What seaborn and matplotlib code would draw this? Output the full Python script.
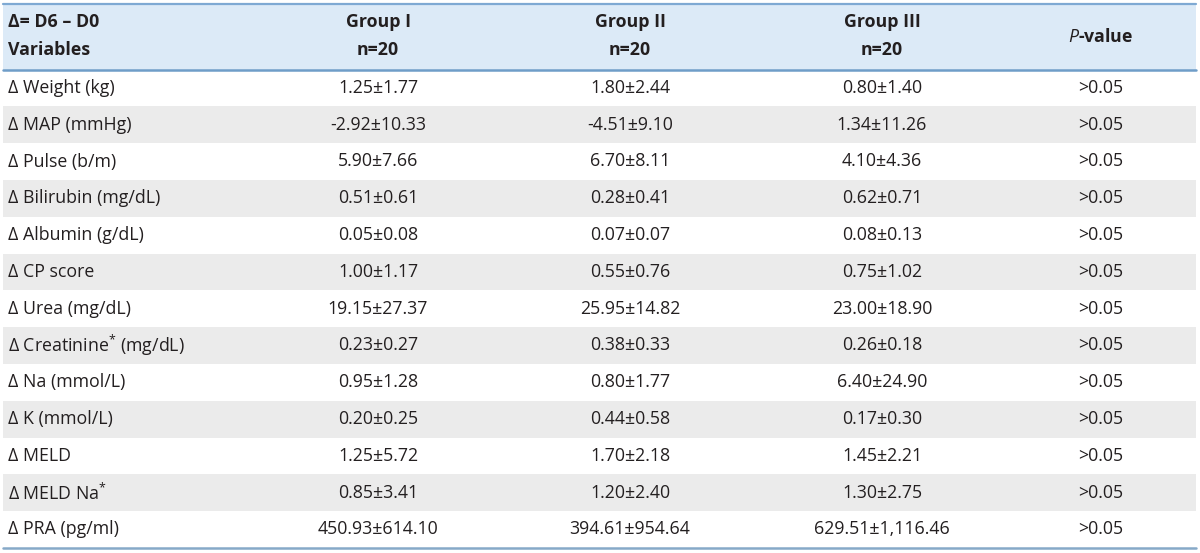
import matplotlib
matplotlib.use("Agg")
import matplotlib.pyplot as plt
from matplotlib.patches import Rectangle
import seaborn as sns

# ---- data ----
variables = ["Weight (kg)", "MAP (mmHg)", "Pulse (b/m)", "Bilirubin (mg/dL)",
             "Albumin (g/dL)", "CP score", "Urea (mg/dL)", "Creatinine$^{*}$ (mg/dL)",
             "Na (mmol/L)", "K (mmol/L)", "MELD", "MELD Na$^{*}$", "PRA (pg/ml)"]
group1_mean = [1.25, -2.92, 5.90, 0.51, 0.05, 1.00, 19.15, 0.23, 0.95, 0.20, 1.25, 0.85, 450.93]
group1_sd = [1.77, 10.33, 7.66, 0.61, 0.08, 1.17, 27.37, 0.27, 1.28, 0.25, 5.72, 3.41, 614.10]
group2_mean = [1.80, -4.51, 6.70, 0.28, 0.07, 0.55, 25.95, 0.38, 0.80, 0.44, 1.70, 1.20, 394.61]
group2_sd = [2.44, 9.10, 8.11, 0.41, 0.07, 0.76, 14.82, 0.33, 1.77, 0.58, 2.18, 2.40, 954.64]
group3_mean = [0.80, 1.34, 4.10, 0.62, 0.08, 0.75, 23.00, 0.26, 6.40, 0.17, 1.45, 1.30, 629.51]
group3_sd = [1.40, 11.26, 4.36, 0.71, 0.13, 1.02, 18.90, 0.18, 24.90, 0.30, 2.21, 2.75, 1116.46]
p_values = [">0.05"] * 13
group_labels = ["Group I", "Group II", "Group III"]
group_n = [20, 20, 20]

sns.set_theme(style="white")
plt.rcParams["font.family"] = ["Open Sans", "DejaVu Sans"]
plt.rcParams["mathtext.fontset"] = "custom"
plt.rcParams["mathtext.rm"] = "Open Sans"
plt.rcParams["mathtext.it"] = "Open Sans:italic"
plt.rcParams["mathtext.bf"] = "Open Sans:bold"

W, H = 1200, 553
fig = plt.figure(figsize=(W / 100, H / 100), dpi=100)
ax = fig.add_axes([0, 0, 1, 1])
ax.set_xlim(0, W)
ax.set_ylim(H, 0)
ax.axis("off")

text_color = "#231f20"
fs = 12.8
x_left, x_right = 3, 1196
head_top, head_bot = 4, 69.5
row_h = 36.8
col_x = [378, 630, 882, 1101]

# header background
ax.add_patch(Rectangle((x_left, head_top), x_right - x_left, head_bot - head_top,
                       facecolor="#dceaf7", edgecolor="none", zorder=0))
# alternating row shading
for i in range(len(variables)):
    y0 = head_bot + i * row_h
    if i % 2 == 1:
        ax.add_patch(Rectangle((x_left, y0), x_right - x_left, row_h,
                               facecolor="#ebebeb", edgecolor="none", zorder=0))
# lines
ax.plot([x_left, x_right], [head_top, head_top], color="#7ea9d3", lw=1.6, zorder=2)
ax.plot([x_left, x_right], [head_bot, head_bot], color="#6f9dc8", lw=1.8, zorder=2)
bot = head_bot + len(variables) * row_h
ax.plot([x_left, x_right], [bot, bot], color="#86a9c8", lw=1.8, zorder=2)

# header text
ax.text(8, 22, "Δ= D6 – D0", fontsize=fs, fontweight="bold", color=text_color,
        ha="left", va="center")
ax.text(8, 50, "Variables", fontsize=fs, fontweight="bold", color=text_color,
        ha="left", va="center")
for g, n, x in zip(group_labels, group_n, col_x[:3]):
    ax.text(x, 22, g, fontsize=fs, fontweight="bold", color=text_color, ha="center", va="center")
    ax.text(x, 50, f"n={n}", fontsize=fs, fontweight="bold", color=text_color, ha="center", va="center")
ax.text(col_x[3], 37, r"$\mathit{P}$-value", fontsize=fs, fontweight="bold",
        color=text_color, ha="center", va="center")

def fmt(m, s):
    return f"{m:,.2f}±{s:,.2f}"

for i, var in enumerate(variables):
    yc = head_bot + (i + 0.5) * row_h
    ax.text(8, yc, "Δ " + var, fontsize=fs, color=text_color, ha="left", va="center")
    cells = [fmt(group1_mean[i], group1_sd[i]), fmt(group2_mean[i], group2_sd[i]),
             fmt(group3_mean[i], group3_sd[i]), p_values[i]]
    for x, c in zip(col_x, cells):
        ax.text(x, yc, c, fontsize=fs, color=text_color, ha="center", va="center")

fig.savefig("out.png", dpi=100, facecolor="white")
